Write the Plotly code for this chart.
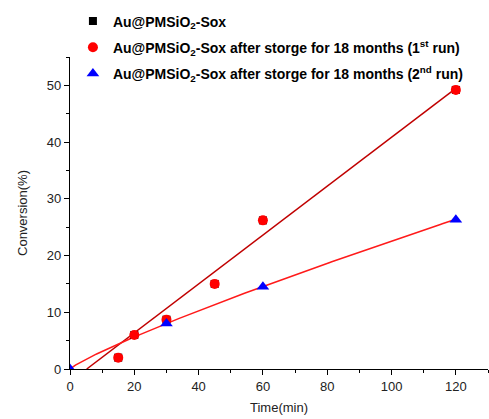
import numpy as np
import plotly.graph_objects as go

# data
time_fresh = [15, 20, 30, 45, 60, 120]
conv_fresh = [2.0, 6.0, 8.7, 15.0, 26.2, 49.2]
time_run1 = [15, 20, 30, 45, 60, 120]
conv_run1 = [2.0, 6.0, 8.7, 15.0, 26.2, 49.2]
time_run2 = [0, 30, 60, 120]
conv_run2 = [0.0, 8.0, 14.5, 26.3]

# fit parameters
lin_slope, lin_intercept = 0.431, -2.24
pow_a, pow_b = 0.43, 0.86

names = [
    "Au@PMSiO<sub>2</sub>-Sox",
    "Au@PMSiO<sub>2</sub>-Sox after storge for 18 months (1<sup>st</sup> run)",
    "Au@PMSiO<sub>2</sub>-Sox after storge for 18 months (2<sup>nd</sup> run)",
]

FONT = "Liberation Sans, Arial"

fig = go.Figure()

x_lin = np.linspace(-lin_intercept / lin_slope, 120, 50)
fig.add_trace(go.Scatter(x=x_lin, y=lin_slope * x_lin + lin_intercept, mode="lines",
                         line=dict(color="#c00000", width=1.5), showlegend=False, hoverinfo="skip"))
x_pow = np.linspace(0, 120, 200)
fig.add_trace(go.Scatter(x=x_pow, y=pow_a * x_pow ** pow_b, mode="lines",
                         line=dict(color="#ff1a1a", width=1.5), showlegend=False, hoverinfo="skip"))

fig.add_trace(go.Scatter(x=time_fresh, y=conv_fresh, mode="markers", name=names[0], legendgroup="a",
                         marker=dict(symbol="square", size=8, color="black")))
fig.add_trace(go.Scatter(x=time_run1, y=conv_run1, mode="markers", name=names[1], legendgroup="b",
                         marker=dict(symbol="circle", size=10, color="#ff0000")))
fig.add_trace(go.Scatter(x=time_run2, y=conv_run2, mode="markers", name=names[2], legendgroup="c",
                         marker=dict(symbol="triangle-up", size=11, color="#0000ff")))

axis_common = dict(showline=True, linecolor="black", linewidth=1.2, ticks="outside",
                   ticklen=5, tickwidth=1, tickcolor="black", showgrid=False, zeroline=False,
                   tickfont=dict(family=FONT, size=13, color="#222"),
                   mirror=False, automargin=False)

fig.update_xaxes(range=[0, 130], dtick=20, tick0=0,
                 minor=dict(ticks="outside", ticklen=3, dtick=10, tickcolor="black"),
                 title=dict(text="Time(min)", font=dict(family=FONT, size=13, color="#222"),
                            standoff=10),
                 **axis_common)
fig.update_yaxes(range=[0, 55], dtick=10, tick0=0,
                 minor=dict(ticks="outside", ticklen=3, dtick=5, tickcolor="black"),
                 title=dict(text="Conversion(%)", font=dict(family=FONT, size=13, color="#222"),
                            standoff=16),
                 **axis_common)

fig.update_layout(
    width=489, height=419,
    margin=dict(l=70, r=1, t=57, b=50, autoexpand=False),
    plot_bgcolor="white", paper_bgcolor="white",
    legend=dict(x=0.007, y=0.987, xanchor="left", yanchor="top", yref="container",
                font=dict(family=FONT, size=14, color="black", weight="bold"),
                bgcolor="rgba(0,0,0,0)", traceorder="grouped", tracegroupgap=5,
                itemwidth=30),
)

fig.write_html("out.html", config={"displayModeBar": False},
               post_script="document.body.style.margin='0';document.body.style.overflow='hidden';")
